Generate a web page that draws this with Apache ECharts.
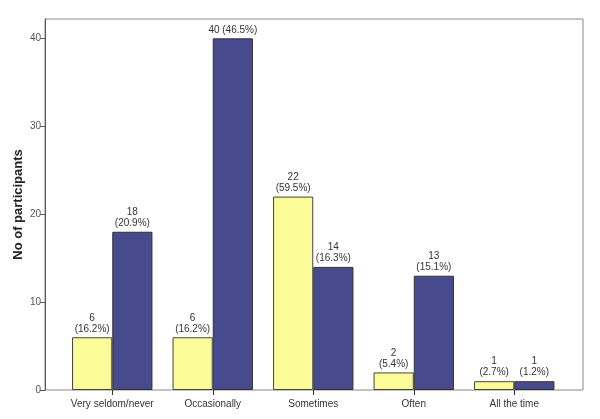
<!DOCTYPE html>
<html><head><meta charset="utf-8">
<script src="https://cdn.jsdelivr.net/npm/echarts@6/dist/echarts.min.js"></script>
<style>html,body{margin:0;padding:0;background:#fff}#c{width:600px;height:419px}</style>
</head><body><div id="c"></div>
<script>
var categories = ['Very seldom/never', 'Occasionally', 'Sometimes', 'Often', 'All the time'];
var groupA = [6, 6, 22, 2, 1];
var groupApct = ['16.2', '16.2', '59.5', '5.4', '2.7'];
var groupB = [18, 40, 14, 13, 1];
var groupBpct = ['20.9', '46.5', '16.3', '15.1', '1.2'];
var yTicks = [0, 10, 20, 30, 40];

var YMAX = 42.2;
function fmt(pct) {
  return function (p) {
    var v = p.value;
    if (v >= 40) return v + ' (' + pct[p.dataIndex] + '%)';
    return v + '\n(' + pct[p.dataIndex] + '%)';
  };
}
var labelStyle = { show: true, position: 'top', distance: 3, fontFamily: 'Arial, Liberation Sans', fontSize: 10, color: '#333', lineHeight: 11 };

var chart = echarts.init(document.getElementById('c'));
chart.setOption({
  animation: false,
  backgroundColor: '#fff',
  grid: [
    { left: 45, right: 17, top: 19, bottom: 29, show: true, borderColor: '#8a8a8a', borderWidth: 1, backgroundColor: 'transparent' },
    { left: 62, right: 35.5, top: 19, bottom: 29 }
  ],
  xAxis: [
    { gridIndex: 0, type: 'value', show: false, min: 0, max: 1 },
    { gridIndex: 1, type: 'category', data: categories,
      axisLine: { show: false },
      axisTick: { show: true, alignWithLabel: true, length: 5, lineStyle: { color: '#333' } },
      axisLabel: { interval: 0, color: '#333', fontFamily: 'Arial, Liberation Sans', fontSize: 10, margin: 9 } }
  ],
  yAxis: [
    { gridIndex: 0, type: 'value', min: 0, max: YMAX,
      name: 'No of participants', nameLocation: 'middle', nameGap: 20, nameMoveOverlap: false,
      nameTextStyle: { fontFamily: 'Arial, Liberation Sans', fontWeight: 'bold', fontSize: 13, color: '#222' },
      axisLine: { show: true, lineStyle: { color: '#555' } },
      axisTick: { show: true, length: 5, customValues: yTicks, lineStyle: { color: '#555' } },
      axisLabel: { color: '#555', fontFamily: 'Arial, Liberation Sans', fontSize: 10, margin: 4, customValues: yTicks },
      splitLine: { show: false } },
    { gridIndex: 1, type: 'value', min: 0, max: YMAX, show: false, splitLine: { show: false } }
  ],
  series: [
    { type: 'bar', xAxisIndex: 1, yAxisIndex: 1, data: groupA, barGap: '0%', barCategoryGap: '20%',
      itemStyle: { color: '#fbfb98', borderColor: '#444', borderWidth: 1 },
      label: Object.assign({}, labelStyle, { formatter: fmt(groupApct) }) },
    { type: 'bar', xAxisIndex: 1, yAxisIndex: 1, data: groupB, barGap: '0%', barCategoryGap: '20%',
      itemStyle: { color: '#484a8e', borderColor: '#333', borderWidth: 1 },
      label: Object.assign({}, labelStyle, { formatter: fmt(groupBpct) }) }
  ]
});
</script></body></html>
